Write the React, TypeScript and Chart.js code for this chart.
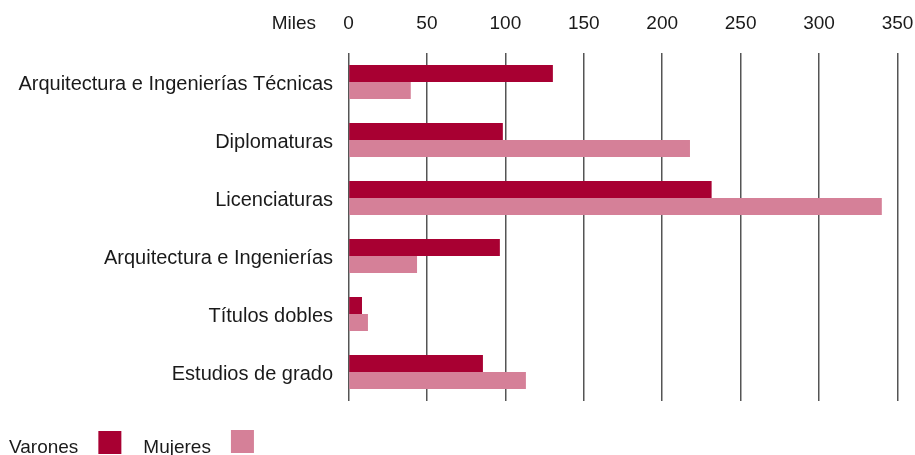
import React, { useEffect, useRef } from "react";
import { Chart, registerables } from "chart.js";

Chart.register(...registerables);

const categories = [
  "Arquitectura e Ingenierías Técnicas",
  "Diplomaturas",
  "Licenciaturas",
  "Arquitectura e Ingenierías",
  "Títulos dobles",
  "Estudios de grado",
];
const varones = [130.3, 98.4, 231.5, 96.5, 8.6, 85.7];
const mujeres = [39.7, 217.7, 340.0, 43.7, 12.4, 113.1];
const seriesLabels = ["Varones", "Mujeres"];
const seriesColors = ["#a80032", "#d58098"];
const unitLabel = "Miles";
const xMin = 0;
const xMax = 350;
const xStep = 50;

const FONT = '"Liberation Sans", Arial, sans-serif';
const TEXT = "#1a1a1a";

const extrasPlugin = {
  id: "extras",
  afterDraw(chart: any) {
    const ctx = chart.ctx;
    ctx.save();
    ctx.font = `19px ${FONT}`;
    ctx.fillStyle = TEXT;
    ctx.textBaseline = "alphabetic";
    ctx.textAlign = "left";
    let x = 9;
    const baseY = 453;
    chart.data.datasets.forEach((ds: any, i: number) => {
      ctx.fillStyle = TEXT;
      ctx.fillText(ds.label, x, baseY);
      x += ctx.measureText(ds.label).width + 20;
      ctx.fillStyle = ds.backgroundColor;
      ctx.fillRect(x, i === 0 ? 431 : 430, 23, 23);
      x += 23 + 22;
    });
    ctx.fillStyle = TEXT;
    ctx.textAlign = "right";
    ctx.textBaseline = "middle";
    ctx.fillText(unitLabel, 316, 24);
    ctx.restore();
  },
};

export default function App() {
  const ref = useRef<HTMLCanvasElement | null>(null);
  useEffect(() => {
    if (!ref.current) return;
    const chart = new Chart(ref.current, {
      type: "bar",
      data: {
        labels: categories,
        datasets: [
          { label: seriesLabels[0], data: varones, backgroundColor: seriesColors[0] },
          { label: seriesLabels[1], data: mujeres, backgroundColor: seriesColors[1] },
        ],
      },
      options: {
        indexAxis: "y",
        responsive: false,
        animation: false,
        events: [],
        layout: { padding: { left: 0, right: 17.5, top: 0, bottom: 54 } },
        datasets: { bar: { categoryPercentage: 0.586, barPercentage: 1.0 } },
        plugins: { legend: { display: false }, tooltip: { enabled: false } },
        scales: {
          x: {
            position: "top",
            min: xMin,
            max: xMax,
            grid: { color: "#555555", lineWidth: 1.5, drawTicks: false },
            border: { display: false },
            ticks: {
              stepSize: xStep,
              padding: 18,
              color: TEXT,
              font: { family: FONT, size: 19 },
            },
            afterFit(scale: any) {
              scale.height = 53;
              scale.paddingLeft = 0;
              scale.paddingRight = 0;
            },
          },
          y: {
            grid: { display: false, drawTicks: false },
            border: { display: false },
            ticks: {
              padding: 15.5,
              labelOffset: 2,
              color: TEXT,
              font: { family: FONT, size: 20 },
            },
            afterFit(scale: any) {
              scale.width = 348.5;
              scale.paddingTop = 0;
              scale.paddingBottom = 0;
            },
          },
        },
      },
      plugins: [extrasPlugin],
    } as any);
    return () => chart.destroy();
  }, []);
  return (
    <div style={{ position: "fixed", left: 0, top: 0, width: 915, height: 455, background: "#fff" }}>
      <canvas ref={ref} width={915} height={455} />
    </div>
  );
}
